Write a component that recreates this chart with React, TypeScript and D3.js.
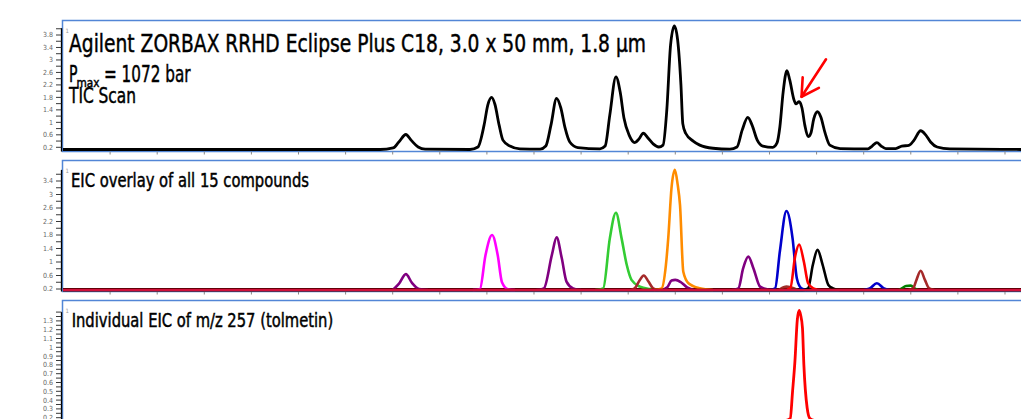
import React, { useRef, useEffect } from "react";
import * as d3 from "d3";

type Pt = [number, number];

// retention time (min) vs. intensity
const ticTrace: Pt[] = [
  [0, 0.13], [0.673, 0.13], [0.701, 0.18], [0.713, 0.37], [0.728, 0.61], [0.739, 0.43], [0.754, 0.21],
  [0.769, 0.14], [0.864, 0.13], [0.881, 0.21], [0.894, 0.91], [0.902, 1.56], [0.91, 1.8], [0.917, 1.58],
  [0.926, 0.91], [0.934, 0.43], [0.949, 0.24], [0.97, 0.15], [1.013, 0.14], [1.025, 0.24], [1.036, 0.91],
  [1.048, 1.77], [1.057, 1.46], [1.066, 0.82], [1.076, 0.37], [1.093, 0.19], [1.14, 0.15], [1.151, 0.24],
  [1.161, 1.24], [1.174, 2.46], [1.183, 1.97], [1.191, 1.14], [1.202, 0.59], [1.214, 0.35], [1.223, 0.47],
  [1.232, 0.65], [1.242, 0.5], [1.253, 0.31], [1.265, 0.21], [1.274, 0.27], [1.282, 1.4], [1.29, 3.48],
  [1.298, 4.09], [1.305, 3.64], [1.312, 2.2], [1.316, 0.95], [1.322, 0.65], [1.338, 0.4], [1.352, 0.27],
  [1.38, 0.17], [1.416, 0.14], [1.431, 0.21], [1.442, 0.75], [1.454, 1.16], [1.463, 0.91], [1.474, 0.43],
  [1.486, 0.24], [1.507, 0.2], [1.516, 0.34], [1.522, 0.85], [1.529, 1.97], [1.537, 2.66], [1.543, 2.36],
  [1.552, 1.72], [1.556, 1.59], [1.563, 1.66], [1.569, 1.46], [1.575, 0.91], [1.582, 0.54], [1.588, 0.66],
  [1.594, 1.11], [1.602, 1.34], [1.609, 1.17], [1.618, 0.66], [1.628, 0.27], [1.65, 0.16], [1.709, 0.15],
  [1.718, 0.24], [1.728, 0.35], [1.737, 0.24], [1.747, 0.16], [1.768, 0.16], [1.781, 0.24], [1.796, 0.26],
  [1.807, 0.43], [1.821, 0.73], [1.832, 0.59], [1.842, 0.37], [1.856, 0.21], [1.883, 0.15], [2.034, 0.13],
];

// EIC traces, one per compound
const eicPurpleA: Pt[] = [[0.7, 0.17], [0.713, 0.35], [0.728, 0.64], [0.741, 0.38], [0.756, 0.2], [0.775, 0.17]];
const eicMagenta: Pt[] = [[0.87, 0.17], [0.885, 0.19], [0.897, 1.2], [0.911, 1.8], [0.923, 1.2], [0.932, 0.4], [0.945, 0.19], [0.96, 0.17]];
const eicPurpleB: Pt[] = [[1.005, 0.17], [1.021, 0.22], [1.038, 1.21], [1.048, 1.73], [1.059, 1.11], [1.069, 0.42], [1.083, 0.22], [1.1, 0.17]];
const eicGreen: Pt[] = [[1.13, 0.17], [1.147, 0.22], [1.161, 1.7], [1.174, 2.46], [1.186, 1.7], [1.197, 0.91], [1.207, 0.47], [1.225, 0.27], [1.246, 0.2], [1.27, 0.17]];
const eicBrownA: Pt[] = [[1.205, 0.17], [1.214, 0.22], [1.224, 0.45], [1.233, 0.6], [1.243, 0.42], [1.253, 0.22], [1.265, 0.17]];
const eicPurpleC: Pt[] = [[1.27, 0.17], [1.283, 0.25], [1.292, 0.45], [1.3, 0.47], [1.312, 0.4], [1.325, 0.25], [1.34, 0.17]];
const eicOrange: Pt[] = [[1.255, 0.17], [1.271, 0.22], [1.28, 0.9], [1.285, 1.7], [1.292, 3.2], [1.299, 3.73], [1.305, 3.3], [1.31, 2.69], [1.317, 0.71], [1.328, 0.37], [1.352, 0.22], [1.38, 0.17]];
const eicPurpleD: Pt[] = [[1.42, 0.17], [1.434, 0.22], [1.444, 0.81], [1.455, 1.16], [1.466, 0.81], [1.48, 0.27], [1.495, 0.19], [1.51, 0.17]];
const eicBrownB: Pt[] = [[1.52, 0.17], [1.53, 0.25], [1.536, 0.27], [1.545, 0.25], [1.56, 0.17]];
const eicBlue: Pt[] = [[1.5, 0.17], [1.512, 0.22], [1.522, 1.31], [1.536, 2.51], [1.549, 1.7], [1.558, 0.52], [1.568, 0.22], [1.58, 0.17]];
const eicBlack: Pt[] = [[0, 0.17], [1.57, 0.17], [1.582, 0.22], [1.592, 0.91], [1.602, 1.36], [1.613, 0.91], [1.625, 0.32], [1.635, 0.22], [1.65, 0.17], [2.034, 0.17]];
const eicBlueSmall: Pt[] = [[1.7, 0.17], [1.713, 0.22], [1.728, 0.37], [1.743, 0.22], [1.755, 0.17]];
const eicDarkGreen: Pt[] = [[1.775, 0.17], [1.781, 0.22], [1.79, 0.29], [1.8, 0.3], [1.808, 0.22], [1.815, 0.17]];
const eicBrownC: Pt[] = [[1.795, 0.17], [1.805, 0.22], [1.812, 0.47], [1.821, 0.74], [1.83, 0.47], [1.839, 0.22], [1.85, 0.17]];
const eicRed: Pt[] = [[0, 0.17], [1.53, 0.17], [1.544, 0.22], [1.555, 1.21], [1.563, 1.52], [1.573, 1.01], [1.582, 0.37], [1.593, 0.22], [1.61, 0.17], [2.034, 0.17]];

// tolmetin alone, m/z 257
const tolmetin: Pt[] = [
  [0, 0.17], [1.535, 0.17], [1.544, 0.19], [1.549, 0.5], [1.554, 0.84], [1.559, 1.31], [1.563, 1.42],
  [1.566, 1.37], [1.57, 1.22], [1.573, 0.8], [1.58, 0.31], [1.586, 0.19], [1.595, 0.17], [2.034, 0.17],
];

const eicTraces = [
  eicPurpleA, eicMagenta, eicPurpleB, eicGreen, eicBrownA, eicPurpleC, eicOrange, eicPurpleD,
  eicBrownB, eicBlue, eicBlueSmall, eicDarkGreen, eicBrownC, eicBlack, eicRed,
];
const eicColors = [
  "#800080", "#ff00ff", "#800080", "#33cc33", "#a52a2a", "#800080", "#ff8c00", "#800080",
  "#a0302a", "#0000cc", "#0000cc", "#008000", "#a52a2a", "#000000", "#ff0000",
];

const ticLabels = [0.2, 0.6, 1, 1.4, 1.8, 2.2, 2.6, 3, 3.4, 3.8];
const eicLabels = [0.2, 0.6, 1, 1.4, 1.8, 2.2, 2.6, 3, 3.4];
const tolLabels = [0.2, 0.3, 0.4, 0.5, 0.6, 0.7, 0.8, 0.9, 1, 1.1, 1.2, 1.3];

const FONT = "'Liberation Sans Narrow', 'DejaVu Sans Condensed', 'Roboto Condensed', sans-serif";

export default function App() {
  const ref = useRef<SVGSVGElement>(null);
  const width = 1021;
  const height = 419;

  useEffect(() => {
    const svg = d3.select(ref.current);
    svg.selectAll("*").remove();

    const x = d3.scaleLinear().domain([0, 2.034]).range([63, 1021]);

    const panels = [
      { top: 20.5, bottom: 151.5, y: d3.scaleLinear().domain([0.2, 3.8]).range([147.3, 35]), axisTop: 4.02, minor: 0.2, labels: ticLabels },
      { top: 160.5, bottom: 291.5, y: d3.scaleLinear().domain([0.2, 3.4]).range([289, 181]), axisTop: 3.73, minor: 0.2, labels: eicLabels },
      { top: 300.5, bottom: 440, y: d3.scaleLinear().domain([0.2, 1.3]).range([417.7, 320.9]), axisTop: 1.4, minor: 0.05, labels: tolLabels },
    ];

    panels.forEach((p, i) => {
      const g = svg.append("g");
      const clipId = `clip${i}`;
      svg.append("clipPath").attr("id", clipId)
        .append("rect").attr("x", 63).attr("y", p.top).attr("width", 980).attr("height", p.bottom - p.top);

      // frame
      g.append("rect")
        .attr("x", 62.5).attr("y", p.top).attr("width", 1000).attr("height", p.bottom - p.top)
        .attr("fill", "none").attr("stroke", "#5286d6").attr("stroke-width", 1.5);

      // x ticks
      if (i < 2) {
        d3.range(1, 21).forEach(k => {
          const t = k / 10;
          g.append("line")
            .attr("x1", x(t)).attr("x2", x(t))
            .attr("y1", p.bottom).attr("y2", p.bottom + 3)
            .attr("stroke", "#888").attr("stroke-width", 1);
        });
      }

      // y axis
      const ax = g.append("g");
      ax.append("line")
        .attr("x1", 61.5).attr("x2", 61.5)
        .attr("y1", p.y(p.axisTop)).attr("y2", p.bottom)
        .attr("stroke", "#000").attr("stroke-width", 1.3);
      const n = Math.floor((p.axisTop - 0.2) / p.minor + 1e-6);
      d3.range(0, n + 1).forEach(k => {
        const v = 0.2 + k * p.minor;
        ax.append("line")
          .attr("x1", 56).attr("x2", 61.5)
          .attr("y1", p.y(v)).attr("y2", p.y(v))
          .attr("stroke", "#222").attr("stroke-width", 0.9);
      });
      ax.selectAll("text.lab")
        .data(p.labels)
        .enter()
        .append("text")
        .attr("x", 53).attr("y", d => p.y(d))
        .attr("dy", "0.35em")
        .attr("text-anchor", "end")
        .attr("font-family", FONT)
        .attr("font-size", 7)
        .attr("fill", "#666")
        .text(d => String(d));

      // panel number
      g.append("text")
        .attr("x", 65.5).attr("y", p.top + 12)
        .attr("font-family", FONT).attr("font-size", 6).attr("fill", "#999")
        .text("1");

      const line = d3.line<Pt>().x(d => x(d[0])).y(d => p.y(d[1])).curve(d3.curveMonotoneX);
      const tg = g.append("g").attr("clip-path", `url(#${clipId})`);

      if (i === 0) {
        tg.append("path").attr("d", line(ticTrace))
          .attr("fill", "none").attr("stroke", "#000").attr("stroke-width", 2.8)
          .attr("stroke-linejoin", "round");
      } else if (i === 1) {
        // baseline shadow under the red
        tg.append("path").attr("d", line([[0, 0.17], [2.034, 0.17]]))
          .attr("fill", "none").attr("stroke", "#400010").attr("stroke-width", 3.8);
        eicTraces.forEach((tr, j) => {
          tg.append("path").attr("d", line(tr))
            .attr("fill", "none").attr("stroke", eicColors[j]).attr("stroke-width", 2.6)
            .attr("stroke-linejoin", "round");
        });
        tg.append("path").attr("d", line([[0, 0.17], [2.034, 0.17]]))
          .attr("fill", "none").attr("stroke", "#d0103a").attr("stroke-width", 2.2);
      } else {
        tg.append("path").attr("d", line(tolmetin))
          .attr("fill", "none").attr("stroke", "#ff0000").attr("stroke-width", 2.8)
          .attr("stroke-linejoin", "round");
      }
    });

    // titles
    const txt = (s: string, xx: number, yy: number, size: number, len: number) =>
      svg.append("text")
        .attr("x", xx).attr("y", yy)
        .attr("font-family", FONT).attr("font-size", size).attr("fill", "#000")
        .attr("stroke", "#000").attr("stroke-width", 0.45)
        .attr("textLength", len).attr("lengthAdjust", "spacingAndGlyphs")
        .text(s);

    txt("Agilent ZORBAX RRHD Eclipse Plus C18, 3.0 x 50 mm, 1.8 µm", 69, 51.5, 25, 577);
    txt("P", 69, 81.5, 23, 8.5);
    txt("max", 76.5, 86.5, 12, 23);
    txt("= 1072 bar", 104, 81.5, 23, 86.5);
    txt("TIC Scan", 69, 103, 21.5, 67);
    txt("EIC overlay of all 15 compounds", 71, 186.7, 19, 238);
    txt("Individual EIC of m/z 257 (tolmetin)", 71.7, 327.3, 19, 261.5);

    // red arrow pointing at the shoulder
    const y1 = panels[0].y;
    const tail: Pt = [x(1.62), y1(3.02)];
    const tip: Pt = [x(1.568), y1(1.82)];
    const ang = Math.atan2(tail[1] - tip[1], tail[0] - tip[0]);
    const arm = 19.5;
    const a1: Pt = [tip[0] + arm * Math.cos(ang - 0.52), tip[1] + arm * Math.sin(ang - 0.52)];
    const a2: Pt = [tip[0] + arm * Math.cos(ang + 0.52), tip[1] + arm * Math.sin(ang + 0.52)];
    const arrow = svg.append("g").attr("stroke", "#ff0000").attr("stroke-width", 2.6)
      .attr("fill", "none").attr("stroke-linecap", "round").attr("stroke-linejoin", "round");
    arrow.append("line").attr("x1", tail[0]).attr("y1", tail[1]).attr("x2", tip[0]).attr("y2", tip[1]);
    arrow.append("polyline").attr("points", [a1, tip, a2].map(p => p.join(",")).join(" "));
  }, []);

  return (
    <svg
      ref={ref}
      width={width}
      height={height}
      style={{ position: "absolute", left: 0, top: 0, background: "#fff" }}
    />
  );
}
